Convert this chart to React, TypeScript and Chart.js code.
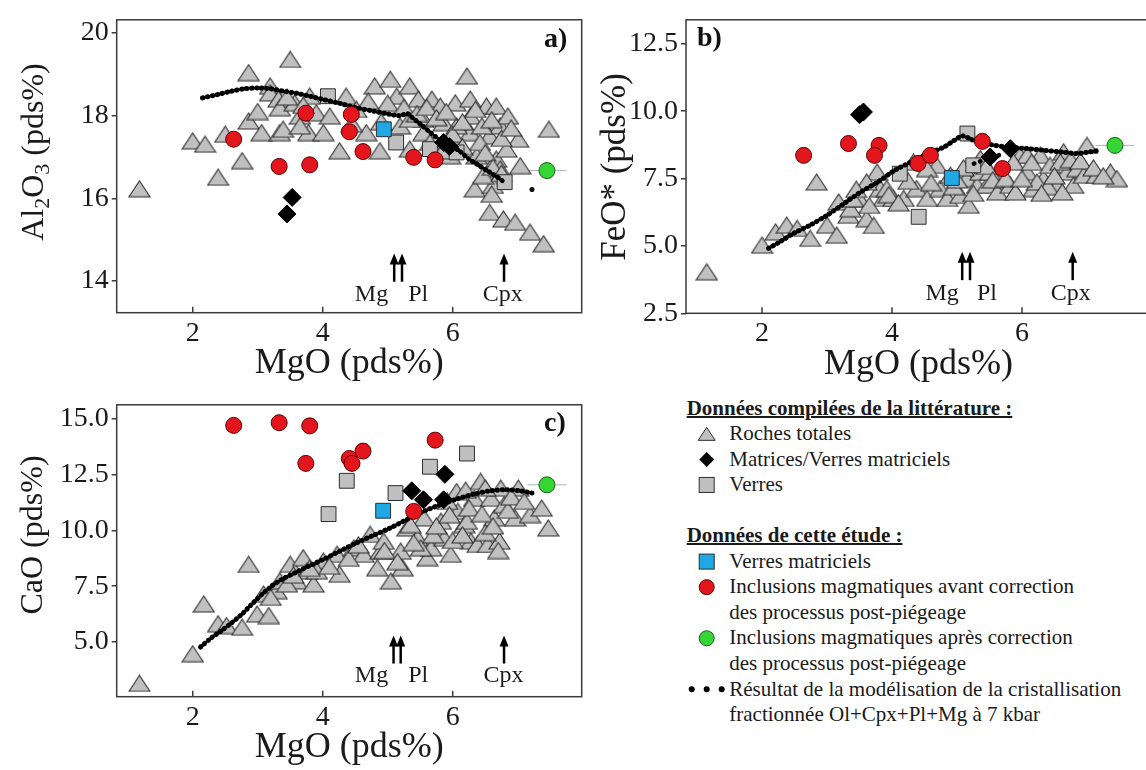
import React, { useEffect, useRef } from 'react';
import { Chart, registerables } from 'chart.js';

Chart.register(...registerables);

type P = [number, number];

// ---------- shared axis ----------
const X_MIN = 0.83;
const X_MAX = 7.985;
const X_STEP = 2;
const X_TITLE = 'MgO (pds%)';

// ---------- panel a : Al2O3 ----------
const rochesA: P[] = [
  [1.18, 16.23], [2.0, 17.39], [2.19, 17.31], [2.39, 16.51], [2.5, 17.55], [2.76, 16.91], [2.86, 19.04],
  [2.86, 17.87], [3.06, 17.59], [3.19, 18.72], [3.19, 18.55], [3.32, 18.4], [3.34, 18.19], [3.34, 17.59],
  [3.39, 17.67], [3.5, 19.36], [3.57, 18.31], [3.65, 17.99], [3.78, 17.59], [3.8, 18.47], [3.9, 18.07],
  [4.01, 17.59], [4.26, 17.15], [4.36, 18.47], [4.52, 18.15], [4.67, 17.59], [4.8, 18.72], [4.88, 17.15],
  [5.04, 18.88], [5.14, 18.47], [5.34, 18.72], [5.34, 17.19], [5.47, 18.4], [5.55, 17.91], [5.68, 18.4],
  [5.81, 18.23], [5.86, 17.83], [5.96, 17.03], [6.04, 18.31], [6.22, 18.96], [6.27, 17.99], [6.27, 17.59],
  [6.37, 17.03], [6.34, 16.23], [6.52, 18.23], [6.57, 17.51], [6.62, 16.31], [6.67, 18.23], [6.67, 16.95],
  [6.73, 17.75], [6.57, 15.66], [6.78, 15.5], [6.85, 17.99], [6.96, 15.42], [7.01, 17.43], [7.04, 16.79],
  [7.19, 15.18], [7.4, 14.9], [7.48, 17.67], [5.19, 17.75], [5.55, 17.59], [5.65, 17.35], [6.06, 17.75],
  [6.42, 17.35], [6.73, 16.71], [6.47, 16.55], [6.83, 17.19], [3.65, 17.75], [4.11, 17.99], [5.96, 17.43],
  [6.27, 18.4], [5.34, 17.91], [5.0, 18.3], [5.25, 18.2], [5.45, 18.05], [5.6, 18.2], [5.75, 17.95],
  [5.9, 18.1], [6.0, 17.55], [6.15, 17.85], [6.35, 18.15], [6.45, 17.75], [6.6, 17.9], [6.75, 17.45],
  [6.9, 17.7], [6.5, 17.1], [6.62, 16.75], [5.85, 17.15], [6.15, 17.25], [4.7, 18.35], [4.9, 17.85],
  [4.45, 17.8], [3.45, 18.45], [3.7, 18.25], [3.0, 18.1], [6.6, 16.1], [6.75, 16.6],
];
const verresA: P[] = [[4.08, 18.47], [5.13, 17.35], [5.65, 17.19], [6.06, 17.11], [6.8, 16.39]];
const matricesA: P[] = [[3.53, 16.02], [3.45, 15.62], [5.86, 17.35], [5.95, 17.25]];
const inclAvantA: P[] = [
  [2.63, 17.43], [3.33, 16.77], [3.8, 16.81], [3.74, 18.06], [4.44, 18.03], [4.41, 17.61], [4.62, 17.13],
  [5.4, 16.99], [5.73, 16.93],
];
const verresMatA: P[] = [[4.94, 17.67]];
const inclApresA: P[] = [[7.45, 16.67]];
const errApresA = [0.3];
const modelA: P[] = [
  [2.15, 18.43], [2.38, 18.51], [2.59, 18.59], [2.79, 18.65], [3.0, 18.67], [3.2, 18.65], [3.4, 18.59],
  [3.6, 18.54], [3.8, 18.47], [4.01, 18.39], [4.26, 18.3], [4.52, 18.19], [4.78, 18.11], [5.04, 18.03],
  [5.2, 18.0], [5.3, 18.05], [5.38, 17.95], [5.5, 17.8], [5.65, 17.6], [5.8, 17.42], [5.95, 17.3],
  [6.1, 17.15], [6.25, 16.95], [6.4, 16.8], [6.55, 16.65], [6.7, 16.5], [6.8, 16.38],
];
const modelExtraA: P[] = [[7.22, 16.21]];

// ---------- panel b : FeO* ----------
const rochesB: P[] = [
  [1.15, 4.04], [2.0, 5.03], [2.21, 5.52], [2.38, 5.77], [2.54, 5.65], [2.74, 5.28], [2.84, 7.37], [3.0, 5.77],
  [3.15, 5.4], [3.18, 6.63], [3.33, 6.14], [3.36, 6.38], [3.5, 6.75], [3.61, 6.01], [3.72, 5.76], [3.77, 7.74],
  [3.82, 7.13], [3.87, 6.76], [4.02, 6.76], [4.18, 6.76], [4.33, 8.11], [4.38, 7.13], [4.54, 6.76], [4.69, 7.99],
  [4.74, 7.13], [4.85, 6.76], [4.9, 7.62], [5.05, 6.88], [5.15, 7.5], [5.18, 6.51], [5.31, 7.25], [5.36, 7.74],
  [5.46, 7.25], [5.62, 7.0], [5.67, 7.74], [5.82, 7.25], [5.97, 8.36], [6.08, 7.74], [6.18, 7.13], [6.28, 8.36],
  [6.33, 7.5], [6.43, 7.99], [6.54, 7.25], [6.64, 8.49], [6.69, 7.74], [6.79, 7.25], [6.85, 7.87], [6.95, 7.62],
  [7.0, 8.73], [7.15, 7.62], [7.36, 7.74], [7.46, 7.5], [6.08, 8.36], [5.36, 8.24], [5.51, 7.74], [5.87, 8.11],
  [6.23, 7.37], [6.59, 8.11], [4.54, 7.87], [3.4, 6.75], [3.61, 7.37], [3.92, 7.13], [4.6, 7.35], [4.95, 7.2],
  [5.1, 7.9], [5.25, 6.95], [5.45, 7.95], [5.55, 7.45], [5.75, 7.5], [5.9, 7.0], [6.0, 7.5], [6.15, 8.1],
  [6.4, 7.2], [6.5, 7.6], [6.62, 7.0], [6.75, 8.2], [6.9, 8.15], [7.1, 7.9], [7.25, 7.6], [6.3, 6.95],
  [5.0, 7.45], [4.25, 7.4], [3.95, 6.9], [3.45, 7.1], [3.65, 6.5], [4.1, 6.6],
];
const verresB: P[] = [[4.12, 7.68], [4.41, 6.08], [5.16, 9.17], [5.25, 7.99]];
const matricesB: P[] = [[3.5, 9.87], [3.56, 9.97], [5.51, 8.3], [5.82, 8.61]];
const inclAvantB: P[] = [
  [2.64, 8.36], [3.33, 8.8], [3.8, 8.73], [3.73, 8.36], [4.4, 8.06], [4.59, 8.36], [5.39, 8.88], [5.7, 7.87],
];
const verresMatB: P[] = [[4.92, 7.52]];
const inclApresB: P[] = [[7.43, 8.73]];
const errApresB = [0.3];
const modelB: P[] = [
  [2.1, 4.91], [2.28, 5.16], [2.49, 5.47], [2.74, 5.77], [3.0, 6.14], [3.26, 6.57], [3.52, 7.0], [3.78, 7.37],
  [4.04, 7.8], [4.29, 8.11], [4.55, 8.42], [4.8, 8.67], [4.96, 8.92], [5.08, 9.08], [5.18, 9.0], [5.31, 8.86],
  [5.51, 8.76], [5.77, 8.67], [6.08, 8.61], [6.34, 8.55], [6.59, 8.49], [6.85, 8.43], [7.05, 8.49], [7.2, 8.55],
];
const modelExtraB: P[] = [[5.26, 8.05], [5.41, 8.18], [5.56, 8.3], [5.72, 8.43]];

// ---------- panel c : CaO ----------
const rochesC: P[] = [
  [1.18, 3.15], [2.0, 4.48], [2.17, 6.71], [2.39, 5.82], [2.52, 5.74], [2.76, 5.67], [2.86, 8.48], [2.99, 6.26],
  [3.17, 6.19], [3.09, 7.15], [3.29, 7.3], [3.34, 7.74], [3.5, 8.48], [3.6, 7.74], [3.7, 8.78], [3.76, 8.19],
  [3.86, 7.6], [4.01, 8.63], [4.22, 8.93], [4.26, 8.04], [4.48, 9.22], [4.63, 8.93], [4.73, 9.82], [4.84, 8.33],
  [4.89, 9.07], [5.05, 7.74], [5.2, 9.07], [5.23, 8.33], [5.3, 10.11], [5.46, 9.67], [5.61, 8.78], [5.67, 9.22],
  [5.82, 10.41], [5.87, 9.67], [5.97, 8.93], [6.08, 10.85], [6.18, 10.26], [6.28, 9.52], [6.33, 11.44],
  [6.38, 9.37], [6.43, 12.19], [6.54, 9.37], [6.59, 11.44], [6.64, 10.56], [6.72, 9.52], [6.74, 11.89],
  [6.79, 11.15], [6.96, 10.56], [7.01, 11.89], [7.19, 10.71], [7.37, 11.0], [7.47, 10.11], [6.06, 11.74],
  [6.22, 10.41], [5.56, 10.56], [5.35, 10.26], [5.92, 11.3], [3.91, 8.19], [4.94, 9.52], [5.51, 9.22],
  [3.2, 7.0], [3.45, 7.6], [3.55, 8.0], [3.8, 8.3], [4.1, 8.4], [4.4, 8.75], [4.55, 9.35], [4.95, 9.1],
  [5.15, 8.6], [5.4, 9.45], [5.7, 9.8], [5.75, 10.2], [6.0, 9.55], [6.15, 9.8], [6.25, 11.0], [6.45, 10.75],
  [6.5, 9.9], [6.62, 10.2], [6.85, 10.9], [6.9, 11.5], [7.1, 11.3], [6.7, 9.1], [5.95, 10.7], [6.2, 11.8],
  [6.5, 11.9],
];
const verresC: P[] = [[4.09, 10.73], [4.37, 12.22], [5.12, 11.67], [5.65, 12.85], [6.22, 13.44]];
const matricesC: P[] = [[5.37, 11.77], [5.55, 11.37], [5.88, 12.51], [5.86, 11.37]];
const inclAvantC: P[] = [
  [2.63, 14.7], [3.33, 14.82], [3.8, 14.68], [3.74, 13.0], [4.41, 13.22], [4.45, 13.0], [4.62, 13.55],
  [5.73, 14.04], [5.4, 10.85],
];
const verresMatC: P[] = [[4.93, 10.88]];
const inclApresC: P[] = [[7.45, 12.04]];
const errApresC = [0.3];
const modelC: P[] = [
  [2.12, 4.78], [2.3, 5.22], [2.46, 5.55], [2.61, 5.89], [2.76, 6.26], [2.91, 6.7], [3.07, 7.15], [3.22, 7.52],
  [3.38, 7.82], [3.58, 8.11], [3.79, 8.41], [4.01, 8.7], [4.26, 9.07], [4.52, 9.44], [4.78, 9.78], [5.04, 10.11],
  [5.29, 10.48], [5.55, 10.85], [5.81, 11.15], [6.07, 11.41], [6.32, 11.62], [6.58, 11.77], [6.83, 11.82],
  [7.04, 11.77], [7.22, 11.67],
];
const modelExtraC: P[] = [];

// ---------- annotations (arrows, in data units) ----------
const arrowLabels = ['Mg', 'Pl', 'Cpx'];
const arrowsA = { x: [5.1, 5.22, 6.79], y: [13.98, 14.66], labelX: [4.75, 5.47, 6.77], labelY: 13.66 };
const arrowsB = { x: [5.08, 5.2, 6.78], y: [3.73, 4.78], labelX: [4.77, 5.46, 6.75], labelY: 3.24 };
const arrowsC = { x: [5.09, 5.2, 6.79], y: [4.04, 5.3], labelX: [4.75, 5.47, 6.78], labelY: 3.48 };

// ---------- legend text ----------
const legendHeadLit = 'Données compilées de la littérature :';
const legendLit = ['Roches totales', 'Matrices/Verres matriciels', 'Verres'];
const legendHeadStudy = 'Données de cette étude :';
const legendStudy = [
  'Verres matriciels',
  'Inclusions magmatiques avant correction',
  'des processus post-piégeage',
  'Inclusions magmatiques après correction',
  'des processus post-piégeage',
  'Résultat de la modélisation de la cristallisation',
  'fractionnée Ol+Cpx+Pl+Mg à 7 kbar',
];

const FONT = '"Liberation Serif", "Times New Roman", serif';
const GRAY = '#c0c0c0';
const EDGE = '#2e2e2e';
const RED = '#e3161d';
const GREEN = '#33d633';
const BLUE = '#1fa7e6';

function triCanvas(w: number, h: number) {
  const c = document.createElement('canvas');
  c.width = w + 2;
  c.height = h + 2;
  const g = c.getContext('2d')!;
  g.beginPath();
  g.moveTo(1 + w / 2, 1);
  g.lineTo(1 + w, 1 + h);
  g.lineTo(1, 1 + h);
  g.closePath();
  g.fillStyle = GRAY;
  g.fill();
  g.lineWidth = 1.1;
  g.strokeStyle = EDGE;
  g.stroke();
  return c;
}

const xy = (a: P[]) => a.map(([x, y]) => ({ x, y }));

type TitlePart = { t: string; sub?: boolean };

interface PanelCfg {
  padding: { left: number; top: number; right: number; bottom: number };
  yWidth: number;
  yMin: number;
  yMax: number;
  yStep: number;
  decimals: number;
  title: TitlePart[];
  titleX: number;
  titleY: number;
  titleSize: number;
  tag: string;
  tagX: number;
  tagY: number;
  arrows: { x: number[]; y: number[]; labelX: number[]; labelY: number };
  err: number[];
  data: { roches: P[]; verres: P[]; matrices: P[]; avant: P[]; vm: P[]; apres: P[]; model: P[]; extra: P[] };
}

function decorPlugin(cfg: PanelCfg) {
  return {
    id: 'decor',
    beforeDatasetsDraw(chart: any) {
      const { ctx } = chart;
      const xs = chart.scales.x;
      const ys = chart.scales.y;
      ctx.save();
      ctx.strokeStyle = '#b0b0b0';
      ctx.lineWidth = 1;
      cfg.data.apres.forEach(([vx, vy], i) => {
        const e = cfg.err[i] || 0;
        const py = ys.getPixelForValue(vy);
        ctx.beginPath();
        ctx.moveTo(xs.getPixelForValue(vx - e), py);
        ctx.lineTo(xs.getPixelForValue(vx + e), py);
        ctx.stroke();
      });
      ctx.restore();
    },
    afterDraw(chart: any) {
      const { ctx, chartArea: a } = chart;
      const xs = chart.scales.x;
      const ys = chart.scales.y;
      ctx.save();
      // frame
      ctx.strokeStyle = '#3a3a3a';
      ctx.lineWidth = 1.5;
      ctx.strokeRect(a.left, a.top, a.right - a.left, a.bottom - a.top);
      // inner x ticks
      ctx.beginPath();
      xs.ticks.forEach((t: any) => {
        const px = xs.getPixelForValue(t.value);
        ctx.moveTo(px, a.bottom);
        ctx.lineTo(px, a.bottom - 6);
      });
      ctx.stroke();
      // arrows
      const ar = cfg.arrows;
      ctx.fillStyle = '#000';
      ctx.strokeStyle = '#000';
      ctx.lineWidth = 2.5;
      ar.x.forEach((v) => {
        const px = xs.getPixelForValue(v);
        const y0 = ys.getPixelForValue(ar.y[0]);
        const y1 = ys.getPixelForValue(ar.y[1]);
        ctx.beginPath();
        ctx.moveTo(px, y0);
        ctx.lineTo(px, y1 + 8);
        ctx.stroke();
        ctx.beginPath();
        ctx.moveTo(px, y1);
        ctx.lineTo(px - 4.5, y1 + 11);
        ctx.lineTo(px + 4.5, y1 + 11);
        ctx.closePath();
        ctx.fill();
      });
      ctx.font = `24px ${FONT}`;
      ctx.textAlign = 'center';
      ctx.textBaseline = 'middle';
      ctx.fillStyle = '#1a1a1a';
      arrowLabels.forEach((s, i) => {
        ctx.fillText(s, xs.getPixelForValue(ar.labelX[i]), ys.getPixelForValue(ar.labelY));
      });
      // panel tag
      ctx.font = `bold 28px ${FONT}`;
      ctx.textAlign = 'left';
      ctx.fillStyle = '#111';
      ctx.fillText(cfg.tag, cfg.tagX, cfg.tagY);
      // y title (rotated, with subscripts)
      const F = cfg.titleSize;
      const fN = `${F}px ${FONT}`;
      const fS = `${Math.round(F * 0.68)}px ${FONT}`;
      let total = 0;
      const widths = cfg.title.map((p) => {
        ctx.font = p.sub ? fS : fN;
        const w = ctx.measureText(p.t).width;
        total += w;
        return w;
      });
      ctx.translate(cfg.titleX, cfg.titleY);
      ctx.rotate(-Math.PI / 2);
      ctx.textAlign = 'left';
      ctx.textBaseline = 'alphabetic';
      ctx.fillStyle = '#1a1a1a';
      let cx = -total / 2;
      cfg.title.forEach((p, i) => {
        ctx.font = p.sub ? fS : fN;
        ctx.fillText(p.t, cx, 0.33 * F + (p.sub ? 0.2 * F : 0));
        cx += widths[i];
      });
      ctx.restore();
    },
  };
}

function buildChart(canvas: HTMLCanvasElement, cfg: PanelCfg) {
  const tri = triCanvas(21, 16);
  const d = cfg.data;
  const datasets: any[] = [
    { label: 'apres', data: xy(d.apres), pointStyle: 'circle', pointRadius: 8, backgroundColor: GREEN, borderColor: '#1d5e1d', borderWidth: 1, order: 1 },
    { label: 'vm', data: xy(d.vm), pointStyle: 'rect', pointRadius: 10.5, backgroundColor: BLUE, borderColor: EDGE, borderWidth: 1, order: 2 },
    { label: 'avant', data: xy(d.avant), pointStyle: 'circle', pointRadius: 8, backgroundColor: RED, borderColor: '#5a0000', borderWidth: 1, order: 3 },
    { label: 'model', data: xy(d.model), showLine: true, pointRadius: 0, borderColor: '#000', borderWidth: 5, borderDash: [0.5, 4.5], borderCapStyle: 'round', tension: 0.3, order: 4 },
    { label: 'modelExtra', data: xy(d.extra), showLine: true, pointRadius: 0, borderColor: '#000', borderWidth: 4.5, borderDash: [0.5, 6], borderCapStyle: 'round', tension: 0.3, order: 4 },
    { label: 'matrices', data: xy(d.matrices), pointStyle: 'rectRot', pointRadius: 9, backgroundColor: '#000', borderColor: '#000', borderWidth: 1, order: 5 },
    { label: 'verres', data: xy(d.verres), pointStyle: 'rect', pointRadius: 10.5, backgroundColor: GRAY, borderColor: EDGE, borderWidth: 1, order: 6 },
    { label: 'roches', data: xy(d.roches), pointStyle: tri, pointRadius: 10, order: 7 },
  ];
  if (d.extra.length === 1) {
    datasets[4] = { label: 'modelExtra', data: xy(d.extra), pointStyle: 'circle', pointRadius: 2.5, backgroundColor: '#000', borderColor: '#000', borderWidth: 0, order: 4 };
  }
  return new Chart(canvas, {
    type: 'scatter',
    data: { datasets },
    plugins: [decorPlugin(cfg)],
    options: {
      responsive: false,
      animation: false,
      devicePixelRatio: 1,
      events: [],
      layout: { padding: cfg.padding, autoPadding: false },
      plugins: { legend: { display: false }, tooltip: { enabled: false } },
      scales: {
        x: {
          type: 'linear',
          min: X_MIN,
          max: X_MAX,
          afterFit: (s: any) => { s.height = 69.3; },
          ticks: { stepSize: X_STEP, includeBounds: false, padding: 4, color: '#1a1a1a', font: { family: FONT, size: 28 }, callback: (v: any) => String(v) },
          grid: { drawOnChartArea: false, drawTicks: false },
          border: { display: false },
          title: { display: true, text: X_TITLE, color: '#1a1a1a', font: { family: FONT, size: 36, lineHeight: 1 }, padding: 0 },
        },
        y: {
          type: 'linear',
          min: cfg.yMin,
          max: cfg.yMax,
          afterFit: (s: any) => { s.width = cfg.yWidth; },
          ticks: { stepSize: cfg.yStep, includeBounds: false, padding: 3, color: '#1a1a1a', font: { family: FONT, size: 28 }, callback: (v: any) => Number(v).toFixed(cfg.decimals) },
          grid: { drawOnChartArea: false, drawTicks: true, tickLength: 5, color: '#3a3a3a', lineWidth: 1.5 },
          border: { display: false },
        },
      },
    } as any,
  });
}

const cfgA: PanelCfg = {
  padding: { left: 0, top: 18.3, right: 18.3, bottom: 3 },
  yWidth: 116.7, yMin: 13.23, yMax: 20.32, yStep: 2, decimals: 0,
  title: [{ t: 'Al' }, { t: '2', sub: true }, { t: 'O' }, { t: '3', sub: true }, { t: ' (pds%)' }],
  titleX: 32.5, titleY: 152, titleSize: 32,
  tag: 'a)', tagX: 544, tagY: 40,
  arrows: arrowsA,
  err: errApresA,
  data: { roches: rochesA, verres: verresA, matrices: matricesA, avant: inclAvantA, vm: verresMatA, apres: inclApresA, model: modelA, extra: modelExtraA },
};
const cfgB: PanelCfg = {
  padding: { left: 0, top: 19.3, right: 9, bottom: 2.4 },
  yWidth: 106, yMin: 2.5, yMax: 13.39, yStep: 2.5, decimals: 1,
  title: [{ t: 'FeO* (pds%)' }],
  titleX: 33, titleY: 167, titleSize: 35,
  tag: 'b)', tagX: 117, tagY: 39,
  arrows: arrowsB,
  err: errApresB,
  data: { roches: rochesB, verres: verresB, matrices: matricesB, avant: inclAvantB, vm: verresMatB, apres: inclApresB, model: modelB, extra: modelExtraB },
};
const cfgC: PanelCfg = {
  padding: { left: 0, top: 17.7, right: 18.3, bottom: 4 },
  yWidth: 116.7, yMin: 2.556, yMax: 15.622, yStep: 2.5, decimals: 1,
  title: [{ t: 'CaO (pds%)' }],
  titleX: 31, titleY: 150, titleSize: 32,
  tag: 'c)', tagX: 544, tagY: 38.3,
  arrows: arrowsC,
  err: errApresC,
  data: { roches: rochesC, verres: verresC, matrices: matricesC, avant: inclAvantC, vm: verresMatC, apres: inclApresC, model: modelC, extra: modelExtraC },
};

const LINE = 25.55;
const LEG_TOP = 408.3 - LINE / 2;

function Legend() {
  const rowTop = (i: number) => LEG_TOP + i * LINE;
  const text = (s: string, i: number, left: number, head = false) => (
    <div
      key={`${i}-${s}`}
      style={{
        position: 'absolute', left, top: rowTop(i), height: LINE, lineHeight: `${LINE}px`,
        fontSize: 21, whiteSpace: 'nowrap', color: '#1a1a1a',
        fontWeight: head ? 700 : 400, textDecoration: head ? 'underline' : 'none',
        textDecorationThickness: head ? '1.5px' : undefined,
      }}
    >
      {s}
    </div>
  );
  const cy = (i: number) => 408.3 + i * LINE - 395;
  const sx = 26.7;
  return (
    <>
      <svg style={{ position: 'absolute', left: 680, top: 395 }} width={60} height={340}>
        <polygon points={`${sx},${cy(1) - 6.5} ${sx + 8.5},${cy(1) + 6.5} ${sx - 8.5},${cy(1) + 6.5}`} fill={GRAY} stroke={EDGE} strokeWidth={1} />
        <polygon points={`${sx},${cy(2) - 7.5} ${sx + 7.5},${cy(2)} ${sx},${cy(2) + 7.5} ${sx - 7.5},${cy(2)}`} fill="#000" />
        <rect x={sx - 7.5} y={cy(3) - 7.5} width={15} height={15} fill={GRAY} stroke={EDGE} strokeWidth={1} />
        <rect x={sx - 7.5} y={cy(6) - 7.5} width={15} height={15} fill={BLUE} stroke={EDGE} strokeWidth={1} />
        <circle cx={sx} cy={cy(7)} r={7.5} fill={RED} stroke="#5a0000" strokeWidth={1} />
        <circle cx={sx} cy={cy(9)} r={7.5} fill={GREEN} stroke="#1d5e1d" strokeWidth={1} />
        <circle cx={sx - 15} cy={cy(11)} r={3} fill="#000" />
        <circle cx={sx} cy={cy(11)} r={3} fill="#000" />
        <circle cx={sx + 15} cy={cy(11)} r={3} fill="#000" />
      </svg>
      {text(legendHeadLit, 0, 686.7, true)}
      {legendLit.map((s, i) => text(s, 1 + i, 729.3))}
      {text(legendHeadStudy, 5, 686.7, true)}
      {legendStudy.map((s, i) => text(s, 6 + i, 729.3))}
    </>
  );
}

export default function App() {
  const refA = useRef<HTMLCanvasElement>(null);
  const refB = useRef<HTMLCanvasElement>(null);
  const refC = useRef<HTMLCanvasElement>(null);

  useEffect(() => {
    const charts = [
      buildChart(refA.current!, cfgA),
      buildChart(refB.current!, cfgB),
      buildChart(refC.current!, cfgC),
    ];
    return () => charts.forEach((c) => c.destroy());
  }, []);

  return (
    <div
      style={{
        position: 'absolute', left: 0, top: 0, width: 1146, height: 770, overflow: 'hidden',
        background: '#fff', fontFamily: FONT,
      }}
    >
      <canvas ref={refA} width={600} height={385} style={{ position: 'absolute', left: 0, top: 0 }} />
      <canvas ref={refB} width={580} height={385} style={{ position: 'absolute', left: 580, top: 0 }} />
      <canvas ref={refC} width={600} height={385} style={{ position: 'absolute', left: 0, top: 385 }} />
      <Legend />
    </div>
  );
}
